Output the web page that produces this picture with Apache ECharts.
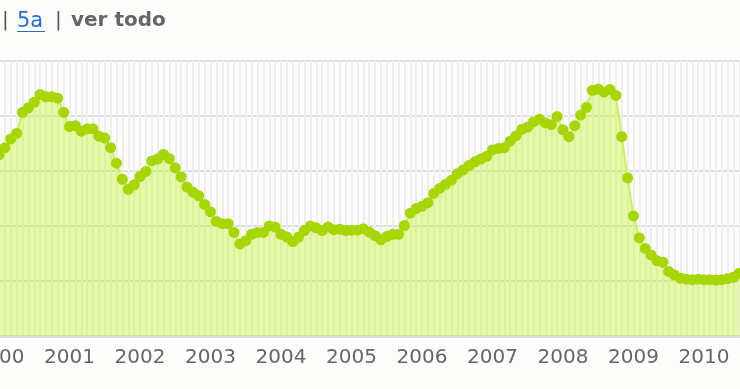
<!DOCTYPE html>
<html>
<head>
<meta charset="utf-8">
<script src="https://cdn.jsdelivr.net/npm/echarts@6/dist/echarts.min.js"></script>
<style>
html,body{margin:0;padding:0;background:#fdfdfc;}
#c{width:740px;height:389px;}
</style>
</head>
<body>
<div id="c"></div>
<script>
// Monthly values, Jan 2000 .. Jul 2010
const years = ['2000','2001','2002','2003','2004','2005','2006','2007','2008','2009','2010'];
const v2000 = [3.95, 4.11, 4.30, 4.42, 4.88, 4.98, 5.10, 5.27, 5.22, 5.22, 5.19, 4.88];
const v2001 = [4.57, 4.59, 4.47, 4.52, 4.52, 4.36, 4.32, 4.11, 3.77, 3.42, 3.20, 3.30];
const v2002 = [3.48, 3.59, 3.82, 3.86, 3.96, 3.87, 3.67, 3.47, 3.25, 3.14, 3.06, 2.87];
const v2003 = [2.71, 2.50, 2.45, 2.45, 2.26, 2.01, 2.08, 2.22, 2.26, 2.26, 2.40, 2.38];
const v2004 = [2.22, 2.16, 2.06, 2.16, 2.30, 2.40, 2.36, 2.30, 2.38, 2.32, 2.33, 2.30];
const v2005 = [2.31, 2.31, 2.34, 2.27, 2.19, 2.10, 2.17, 2.22, 2.22, 2.41, 2.68, 2.78];
const v2006 = [2.83, 2.91, 3.11, 3.22, 3.31, 3.40, 3.54, 3.62, 3.72, 3.80, 3.86, 3.92];
const v2007 = [4.06, 4.09, 4.11, 4.25, 4.37, 4.51, 4.56, 4.67, 4.73, 4.65, 4.61, 4.79];
const v2008 = [4.50, 4.35, 4.59, 4.82, 4.99, 5.36, 5.39, 5.32, 5.38, 5.25, 4.35, 3.45];
const v2009 = [2.62, 2.14, 1.91, 1.77, 1.64, 1.61, 1.41, 1.33, 1.26, 1.24, 1.23, 1.24];
const v2010 = [1.23, 1.23, 1.22, 1.23, 1.25, 1.28, 1.37];
const yearValues = [v2000, v2001, v2002, v2003, v2004, v2005, v2006, v2007, v2008, v2009, v2010];

const categories = [];
const values = [];
yearValues.forEach((arr, yi) => {
  arr.forEach((v, mi) => {
    categories.push(years[yi] + '-' + String(mi + 1).padStart(2, '0'));
    values.push(v);
  });
});

const chart = echarts.init(document.getElementById('c'), null, {renderer: 'canvas'});
chart.setOption({
  animation: false,
  backgroundColor: '#fdfdfc',
  grid: {left: -1, right: 0.75, top: 61, bottom: 53, containLabel: false, outerBoundsMode: 'none'},
  xAxis: {
    type: 'category',
    data: categories,
    boundaryGap: false,
    axisLine: {show: true, lineStyle: {color: '#dcdcdc', width: 3}},
    axisTick: {show: false},
    axisLabel: {
      interval: (i, val) => val.endsWith('-01'),
      formatter: (val) => val.slice(0, 4),
      color: '#666',
      fontFamily: 'DejaVu Sans',
      fontSize: 20,
      margin: 12,
      hideOverlap: false
    },
    splitLine: {show: true, interval: 0, lineStyle: {color: '#eeeeee', width: 2}}
  },
  yAxis: {
    type: 'value',
    min: 0, max: 6, interval: 1.2,
    axisLine: {show: false},
    axisTick: {show: false},
    axisLabel: {show: false},
    splitLine: {show: true, lineStyle: {color: '#dedede', width: 2}}
  },
  graphic: [
    {type: 'text', left: 2, top: 11, style: {text: '|', font: '20px "DejaVu Sans"', fill: '#555'}},
    {type: 'text', left: 17, top: 11, style: {text: '5a', font: '21px "DejaVu Sans"', fill: '#1f6fd6'}},
    {type: 'rect', shape: {x: 17, y: 31, width: 28, height: 1}, style: {fill: '#1f6fd6'}},
    {type: 'text', left: 55, top: 11, style: {text: '|', font: '20px "DejaVu Sans"', fill: '#555'}},
    {type: 'text', left: 71, top: 11, style: {text: 'ver todo', font: 'bold 20px "DejaVu Sans"', fill: '#666'}}
  ],
  series: [{
    type: 'line',
    data: values,
    symbol: 'circle',
    symbolSize: 11,
    showSymbol: true,
    showAllSymbol: true,
    itemStyle: {color: '#a6d604'},
    lineStyle: {color: '#cdef5c', width: 2},
    areaStyle: {color: 'rgba(196,243,50,0.6)'},
    z: 3
  }]
});
</script>
</body>
</html>
